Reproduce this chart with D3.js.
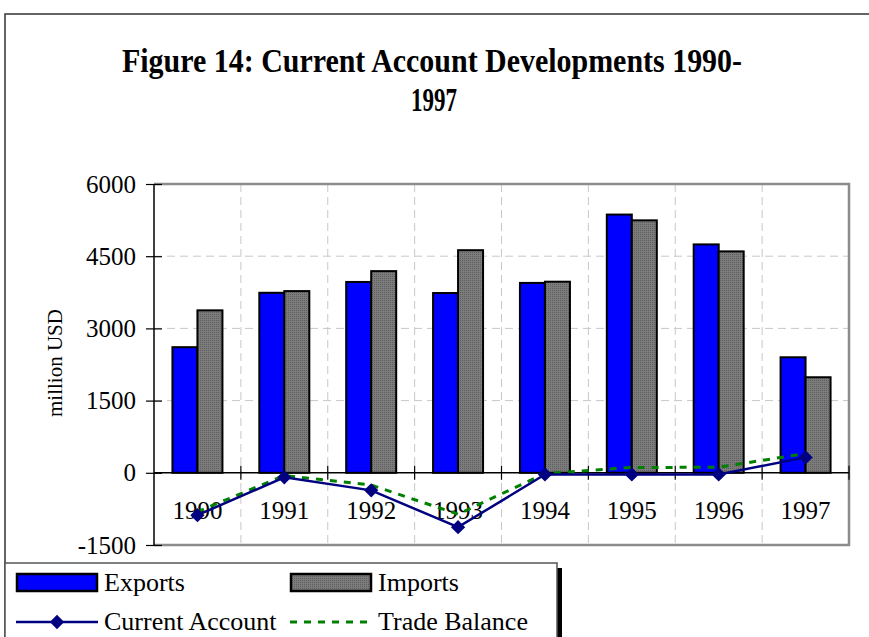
<!DOCTYPE html>
<html>
<head>
<meta charset="utf-8">
<script src="https://cdn.jsdelivr.net/npm/d3@7"></script>
<style>
  body { margin: 0; background: #fff; }
  text { font-family: "Liberation Serif", "Times New Roman", serif; }
</style>
</head>
<body>
<svg id="chart" width="869" height="637"></svg>
<script>
// values (million USD)
let years = ["1990", "1991", "1992", "1993", "1994", "1995", "1996", "1997"];
let exports_ = [2610, 3740, 3965, 3735, 3945, 5365, 4745, 2400];
let imports_ = [3375, 3775, 4190, 4625, 3970, 5245, 4600, 1985];
let currentAccount = [-880, -95, -365, -1130, -35, -35, -35, 320];
let tradeBalance = [-810, -55, -255, -860, -15, 110, 115, 400];
let yTicks = [-1500, 0, 1500, 3000, 4500, 6000];

let svg = d3.select("#chart");

let plotL = 154, plotR = 849, plotT = 184, plotB = 545;

let x = d3.scaleBand().domain(years).range([plotL, plotR]);
let y = d3.scaleLinear().domain([-1500, 6000]).range([plotB, plotT]);
let bw = x.bandwidth();
let barW = 25;

// fine hatched grey for imports
let defs = svg.append("defs");
let pat = defs.append("pattern")
    .attr("id", "hatch")
    .attr("width", 2)
    .attr("height", 2)
    .attr("patternUnits", "userSpaceOnUse");
pat.append("rect").attr("width", 2).attr("height", 2).attr("fill", "#7c7c7c");
pat.append("rect").attr("width", 1).attr("height", 1).attr("fill", "#5e5e5e");

// outer frame
svg.append("rect")
    .attr("x", 5)
    .attr("y", 14)
    .attr("width", 900)
    .attr("height", 700)
    .attr("fill", "#fff")
    .attr("stroke", "#333")
    .attr("stroke-width", 1.5);

// title
svg.append("text")
    .attr("x", 432)
    .attr("y", 72)
    .attr("text-anchor", "middle")
    .attr("font-size", 34)
    .attr("font-weight", "bold")
    .attr("textLength", 620)
    .attr("lengthAdjust", "spacingAndGlyphs")
    .text("Figure 14: Current Account Developments 1990-");
svg.append("text")
    .attr("x", 434)
    .attr("y", 111)
    .attr("text-anchor", "middle")
    .attr("font-size", 34)
    .attr("font-weight", "bold")
    .attr("textLength", 46)
    .attr("lengthAdjust", "spacingAndGlyphs")
    .text("1997");

// gridlines
svg.append("g")
    .selectAll("line")
    .data(yTicks.filter(d => d > 0 && d < 6000))
    .join("line")
    .attr("x1", plotL)
    .attr("x2", plotR)
    .attr("y1", d => y(d))
    .attr("y2", d => y(d))
    .attr("stroke", "#c8c8c8")
    .attr("stroke-width", 1)
    .attr("stroke-dasharray", "8,5");

svg.append("g")
    .selectAll("line")
    .data(years.slice(1))
    .join("line")
    .attr("x1", d => x(d))
    .attr("x2", d => x(d))
    .attr("y1", plotT)
    .attr("y2", plotB)
    .attr("stroke", "#c8c8c8")
    .attr("stroke-width", 1)
    .attr("stroke-dasharray", "8,5");

// plot border (grey on top, right, bottom)
svg.append("path")
    .attr("d", `M${plotL},${plotT} H${plotR} V${plotB} H${plotL}`)
    .attr("fill", "none")
    .attr("stroke", "#8c8c8c")
    .attr("stroke-width", 2.5);

// bars
svg.append("g")
    .selectAll("rect")
    .data(years)
    .join("rect")
    .attr("x", d => x(d) + bw / 2 - barW)
    .attr("width", barW)
    .attr("y", (d, i) => y(exports_[i]))
    .attr("height", (d, i) => y(0) - y(exports_[i]))
    .attr("fill", "#0000ff")
    .attr("stroke", "#000")
    .attr("stroke-width", 2);

svg.append("g")
    .selectAll("rect")
    .data(years)
    .join("rect")
    .attr("x", d => x(d) + bw / 2)
    .attr("width", barW)
    .attr("y", (d, i) => y(imports_[i]))
    .attr("height", (d, i) => y(0) - y(imports_[i]))
    .attr("fill", "url(#hatch)")
    .attr("stroke", "#000")
    .attr("stroke-width", 2);

// y axis
let yAxis = svg.append("g")
    .attr("transform", `translate(${plotL},0)`)
    .call(d3.axisLeft(y).tickValues(yTicks).tickSize(8).tickPadding(10).tickFormat(d => String(d)));
yAxis.select(".domain").attr("stroke", "#000").attr("stroke-width", 1.5).attr("d", `M0,${plotT}V${plotB}`);
yAxis.selectAll(".tick line").attr("x1", -8).attr("x2", 8).attr("stroke", "#000").attr("stroke-width", 1.2);
yAxis.selectAll(".tick text")
    .attr("font-size", 25)
    .attr("font-family", "Liberation Serif, serif")
    .attr("fill", "#000");

svg.append("text")
    .attr("transform", "translate(62,363) rotate(-90)")
    .attr("text-anchor", "middle")
    .attr("font-size", 21)
    .text("million USD");

// x axis at zero
svg.append("line")
    .attr("x1", plotL)
    .attr("x2", plotR)
    .attr("y1", y(0))
    .attr("y2", y(0))
    .attr("stroke", "#000")
    .attr("stroke-width", 1.5);
svg.append("g")
    .selectAll("line")
    .data(years.slice(1).concat(["end"]))
    .join("line")
    .attr("x1", d => d == "end" ? plotR : x(d))
    .attr("x2", d => d == "end" ? plotR : x(d))
    .attr("y1", y(0) - 7)
    .attr("y2", y(0) + 7)
    .attr("stroke", "#000")
    .attr("stroke-width", 1.2);
svg.append("g")
    .selectAll("text")
    .data(years)
    .join("text")
    .attr("x", d => x(d) + bw / 2)
    .attr("y", 519)
    .attr("text-anchor", "middle")
    .attr("font-size", 25)
    .text(d => d);

// lines
let line = d3.line()
    .x((d, i) => x(years[i]) + bw / 2)
    .y(d => y(d));

svg.append("path")
    .datum(tradeBalance)
    .attr("d", line)
    .attr("fill", "none")
    .attr("stroke", "#008000")
    .attr("stroke-width", 3)
    .attr("stroke-dasharray", "7,7");

svg.append("path")
    .datum(currentAccount)
    .attr("d", line)
    .attr("fill", "none")
    .attr("stroke", "#000080")
    .attr("stroke-width", 2.5);

let diamond = d3.symbol().type(d3.symbolDiamond2).size(130);
svg.append("g")
    .selectAll("path")
    .data(currentAccount)
    .join("path")
    .attr("transform", (d, i) => `translate(${x(years[i]) + bw / 2},${y(d)})`)
    .attr("d", diamond)
    .attr("fill", "#000080");

// legend
let lg = svg.append("g");
lg.append("rect")
    .attr("x", 557)
    .attr("y", 568)
    .attr("width", 5)
    .attr("height", 80)
    .attr("fill", "#000");
lg.append("rect")
    .attr("x", 5)
    .attr("y", 563)
    .attr("width", 552)
    .attr("height", 90)
    .attr("fill", "#fff")
    .attr("stroke", "#555")
    .attr("stroke-width", 1.5);

lg.append("rect")
    .attr("x", 17).attr("y", 574).attr("width", 80).attr("height", 17)
    .attr("fill", "#0000ff").attr("stroke", "#000").attr("stroke-width", 2.5);
lg.append("text").attr("x", 104).attr("y", 591).attr("font-size", 26).text("Exports");

lg.append("rect")
    .attr("x", 291).attr("y", 574).attr("width", 80).attr("height", 17)
    .attr("fill", "url(#hatch)").attr("stroke", "#000").attr("stroke-width", 2.5);
lg.append("text").attr("x", 378).attr("y", 591).attr("font-size", 26).text("Imports");

lg.append("line")
    .attr("x1", 16).attr("x2", 98).attr("y1", 622).attr("y2", 622)
    .attr("stroke", "#000080").attr("stroke-width", 2.5);
lg.append("path")
    .attr("transform", "translate(57,622)")
    .attr("d", diamond)
    .attr("fill", "#000080");
lg.append("text").attr("x", 104).attr("y", 630).attr("font-size", 26).text("Current Account");

lg.append("line")
    .attr("x1", 290).attr("x2", 372).attr("y1", 622).attr("y2", 622)
    .attr("stroke", "#008000").attr("stroke-width", 3).attr("stroke-dasharray", "7,7");
lg.append("text").attr("x", 378).attr("y", 630).attr("font-size", 26).text("Trade Balance");
</script>
</body>
</html>
